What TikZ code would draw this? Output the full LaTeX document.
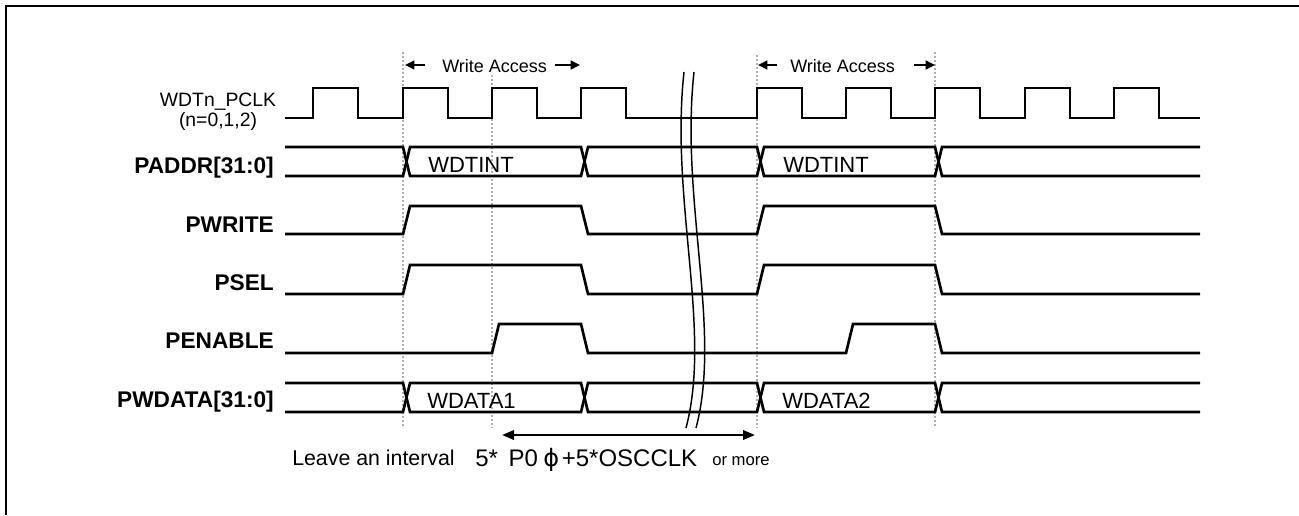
\documentclass[tikz,border=0pt]{standalone}
\usepackage{fontspec}
\setmainfont{Liberation Sans}
\newfontfamily\phifont{DejaVu Sans}
\usetikzlibrary{arrows.meta}
\begin{document}
\begin{tikzpicture}[x=0.75pt,y=-0.75pt,
  sig/.style={line width=2pt, line join=miter},
  guide/.style={gray!65, line width=0.9pt, dash pattern=on 1.2pt off 1.8pt},
  brk/.style={line width=1.1pt},
  lbl/.style={anchor=base east, inner sep=0pt, font=\fontsize{17}{20}\selectfont\bfseries},
  bustxt/.style={anchor=base west, inner sep=0pt, font=\fontsize{16.5}{20}\selectfont},
  wa/.style={anchor=base west, inner sep=0pt, font=\fontsize{13.5}{16}\selectfont},
  watip/.style={-{Triangle[length=7pt,width=6.5pt]}, line width=1.8pt},
  ivl/.style={{Triangle[length=9pt,width=7pt]}-{Triangle[length=9pt,width=7pt]}, line width=1.8pt},
  note/.style={anchor=base west, inner sep=0pt, font=\fontsize{16}{19}\selectfont}]
\useasboundingbox (0,0) rectangle (1299,515);
% frame (only top and left edges visible)
\draw[line width=1.6pt] (6,515) -- (6,6) -- (1299,6);

% guide lines
\draw[guide] (403,52) -- (403,428);
\draw[guide] (492,75) -- (492,428);
\draw[guide] (757,55) -- (757,428);
\draw[guide] (935,52) -- (935,428);

% labels
\node[inner sep=0pt, align=center, font=\fontsize{14.5}{15}\selectfont] (clk) at (218,112) {WDTn\_PCLK\\(n=0,1,2)};
\node[lbl] (paddr) at (274,173) {PADDR[31:0]};
\node[lbl] (pwrite) at (274,232) {PWRITE};
\node[lbl] (psel) at (274,290) {PSEL};
\node[lbl] (penable) at (274,348) {PENABLE};
\node[lbl] (pwdata) at (274,407) {PWDATA[31:0]};

% clock
\draw[sig] (285,118)
  -- (313,118) -- (313,88) -- (358,88) -- (358,118)
  -- (403,118) -- (403,88) -- (448,88) -- (448,118)
  -- (492,118) -- (492,88) -- (537,88) -- (537,118)
  -- (581,118) -- (581,88) -- (626,88) -- (626,118)
  -- (757,118) -- (757,88) -- (802,88) -- (802,118)
  -- (846,118) -- (846,88) -- (891,88) -- (891,118)
  -- (935,118) -- (935,88) -- (980,88) -- (980,118)
  -- (1025,118) -- (1025,88) -- (1070,88) -- (1070,118)
  -- (1114,118) -- (1114,88) -- (1159,88) -- (1159,118)
  -- (1200,118);

% PADDR bus
\draw[sig] (285,147) -- (403,147) -- (410,176) -- (581,176) -- (588,147) -- (757,147) -- (764,176) -- (935,176) -- (942,147) -- (1200,147);
\draw[sig] (285,176) -- (403,176) -- (410,147) -- (581,147) -- (588,176) -- (757,176) -- (764,147) -- (935,147) -- (942,176) -- (1200,176);
\node[bustxt] (a1) at (428,172) {WDTINT};
\node[bustxt] (a2) at (783,172) {WDTINT};

% PWRITE
\draw[sig] (285,234) -- (403,234) -- (410,206) -- (581,206) -- (588,234) -- (757,234) -- (764,206) -- (935,206) -- (942,234) -- (1200,234);
% PSEL
\draw[sig] (285,294) -- (403,294) -- (410,265) -- (581,265) -- (588,294) -- (757,294) -- (764,265) -- (935,265) -- (942,294) -- (1200,294);
% PENABLE
\draw[sig] (285,353) -- (492,353) -- (499,324) -- (581,324) -- (588,353) -- (846,353) -- (853,324) -- (935,324) -- (942,353) -- (1200,353);

% PWDATA bus
\draw[sig] (285,383) -- (403,383) -- (410,412) -- (581,412) -- (588,383) -- (757,383) -- (764,412) -- (935,412) -- (942,383) -- (1200,383);
\draw[sig] (285,412) -- (403,412) -- (410,383) -- (581,383) -- (588,412) -- (757,412) -- (764,383) -- (935,383) -- (942,412) -- (1200,412);
\node[bustxt] (d1) at (427,408) {WDATA1};
\node[bustxt] (d2) at (782,408) {WDATA2};

% break marks
\draw[brk] (684,72) .. controls (670,200) and (712,330) .. (686,428);
\draw[brk] (694,72) .. controls (680,200) and (722,330) .. (696,428);

% write access arrows
\coordinate (w1a) at (425,65); \coordinate (w1at) at (405,65);
\coordinate (w1b) at (555,65); \coordinate (w1bt) at (580,65);
\coordinate (w2a) at (777,65); \coordinate (w2at) at (758,65);
\coordinate (w2b) at (914,65); \coordinate (w2bt) at (935,65);
\draw[watip] (w1a) -- (w1at);
\draw[watip] (w1b) -- (w1bt);
\draw[watip] (w2a) -- (w2at);
\draw[watip] (w2b) -- (w2bt);
\node[wa] (wt1) at (442,72) {Write Access};
\node[wa] (wt2) at (790,72) {Write Access};

% interval arrow
\coordinate (il) at (502,435);
\coordinate (ir) at (755,435);
\draw[ivl] (il) -- (ir);
\node[note] (n1) at (292,465) {Leave an interval};
\node[note, font=\fontsize{18}{21}\selectfont] (n2) at (475,466) {5*\hspace{8pt}P0\hspace{4pt}{\phifont ϕ}\hspace{2pt}+5*OSCCLK};
\node[anchor=base west, inner sep=0pt, font=\fontsize{12.5}{14}\selectfont] (n3) at (712,465) {or more};
\end{tikzpicture}
\end{document}
